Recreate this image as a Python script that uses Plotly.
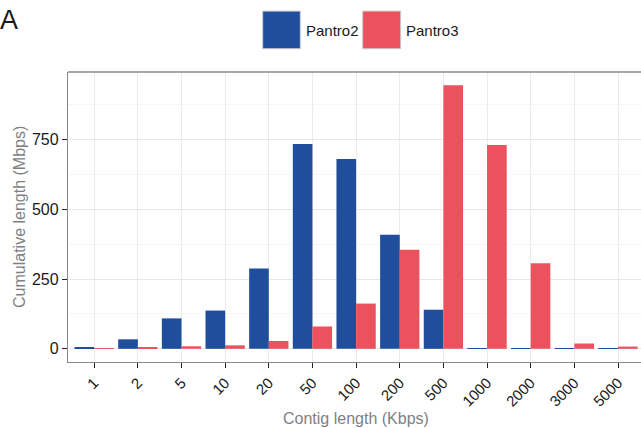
import plotly.graph_objects as go

# ---- data ----
categories = ["1", "2", "5", "10", "20", "50", "100", "200", "500", "1000", "2000", "3000", "5000"]
pantro2 = [6, 34, 109, 137, 288, 733, 680, 408, 140, 2.5, 0.4, 0.4, 0.4]
pantro3 = [1, 5, 9, 12.5, 28, 80, 162, 355, 944, 730, 306, 19, 8]
y_ticks = [0, 250, 500, 750]
series_names = ["Pantro2", "Pantro3"]
series_colors = ["#1F4F9C", "#EC515E"]

W, H = 641, 428
ML, MR, MT, MB = 68, 0, 71.6, 66.3
PW = W - ML - MR
PH = H - MT - MB
FONT = "Liberation Sans, Arial, Helvetica, sans-serif"


def px_x(p):
    return (p - ML) / PW


def px_y(p):
    return (H - MB - p) / PH


fig = go.Figure()
fig.add_trace(go.Bar(x=categories, y=pantro2, name=series_names[0],
                     marker=dict(color=series_colors[0], line=dict(width=0)), showlegend=False))
fig.add_trace(go.Bar(x=categories, y=pantro3, name=series_names[1],
                     marker=dict(color=series_colors[1], line=dict(width=0)), showlegend=False))

ymax = max(max(pantro2), max(pantro3))
pad = 0.05 * ymax

fig.update_layout(
    width=W, height=H,
    margin=dict(l=ML, r=MR, t=MT, b=MB, pad=0, autoexpand=False),
    paper_bgcolor="white", plot_bgcolor="white",
    barmode="group", bargap=0.1, bargroupgap=0,
    font=dict(family=FONT, color="#1a1a1a"),
    xaxis=dict(
        type="category", range=[-0.6, 12.6 - 3.2 / 43.65], automargin=False,
        showgrid=True, gridcolor="#EBEBEB", gridwidth=1,
        showline=True, linecolor="#888888", linewidth=1.4,
        ticks="outside", ticklen=5, tickwidth=1.3, tickcolor="#222222",
        tickangle=-45, tickfont=dict(size=15, color="#1a1a1a"),
        zeroline=False,
    ),
    yaxis=dict(
        range=[-pad, ymax + pad], automargin=False,
        tickvals=y_ticks, ticktext=[str(v) for v in y_ticks],
        showgrid=True, gridcolor="#E6E6E6", gridwidth=1,
        minor=dict(dtick=125, tick0=0, showgrid=True, gridcolor="#F6F6F6", gridwidth=1),
        showline=True, linecolor="#888888", linewidth=1.4,
        ticks="outside", ticklen=5, tickwidth=1.3, tickcolor="#222222",
        tickfont=dict(size=16, color="#1a1a1a"),
        zeroline=False,
    ),
)

# top border of panel (right side is cropped off in the reference)
fig.add_shape(type="line", xref="paper", yref="paper", x0=0, x1=1, y0=1, y1=1,
              line=dict(color="#888888", width=1.4))

# axis titles
fig.add_annotation(text="Cumulative length (Mbps)", xref="paper", yref="paper",
                   x=px_x(19), y=0.5, textangle=-90, showarrow=False,
                   xanchor="center", yanchor="middle",
                   font=dict(size=16, color="#7F7F7F", family=FONT))
fig.add_annotation(text="Contig length (Kbps)", xref="paper", yref="paper",
                   x=px_x(356), y=px_y(418), showarrow=False,
                   xanchor="center", yanchor="middle",
                   font=dict(size=16, color="#7F7F7F", family=FONT))

# panel label
fig.add_annotation(text="A", xref="paper", yref="paper", x=px_x(-2), y=px_y(20),
                   showarrow=False, xanchor="left", yanchor="middle",
                   font=dict(size=27, color="#1a1a1a", family=FONT))

# legend (large keys as in the reference)
keys = [(262.7, 300.3, 303.5), (362.7, 400.7, 404)]
for (k0, k1, tx), name, col in zip(keys, series_names, series_colors):
    fig.add_shape(type="rect", xref="paper", yref="paper",
                  x0=px_x(k0), x1=px_x(k1), y0=px_y(48.3), y1=px_y(10.7),
                  fillcolor=col, line=dict(color="#CCCCCC", width=1))
    fig.add_annotation(text=name, xref="paper", yref="paper", x=px_x(tx), y=px_y(30),
                       showarrow=False, xanchor="left", yanchor="middle",
                       font=dict(size=15, color="#1a1a1a", family=FONT))

fig.write_html("out.html", config={"displayModeBar": False},
               post_script="document.body.style.margin='0';document.body.style.padding='0';")
